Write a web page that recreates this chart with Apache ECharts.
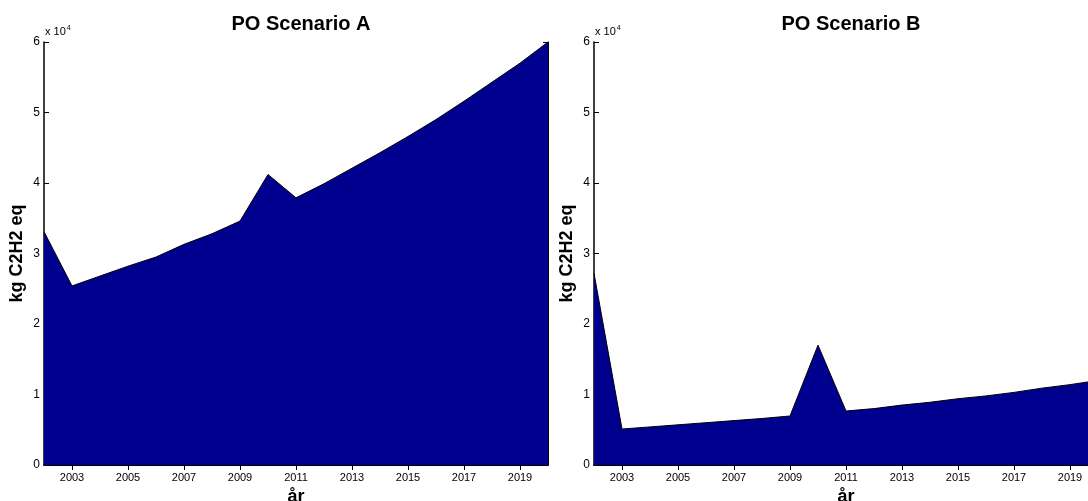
<!DOCTYPE html>
<html><head><meta charset="utf-8">
<script src="https://cdn.jsdelivr.net/npm/echarts@6/dist/echarts.min.js"></script>
<style>html,body{margin:0;padding:0;background:#fff}#c{width:1088px;height:501px}</style>
</head><body><div id="c"></div>
<script>
const years = ['2002','2003','2004','2005','2006','2007','2008','2009','2010','2011','2012','2013','2014','2015','2016','2017','2018','2019','2020'];
const scenarioA = [33100, 25400, 26800, 28200, 29500, 31300, 32800, 34600, 41200, 37900, 39900, 42100, 44300, 46600, 49000, 51600, 54300, 57000, 60000];
const scenarioB = [27200, 5100, 5400, 5700, 6000, 6300, 6600, 6950, 17000, 7660, 8000, 8500, 8900, 9400, 9800, 10300, 10900, 11400, 12000];
const yTicks = ['0','1','2','3','4','5','6'];
const titles = ['PO Scenario A', 'PO Scenario B'];
const yName = 'kg C2H2 eq';
const xName = 'år';
const scaleText = '{a|x 10}{b|4}';

const font = 'Liberation Sans, Arial, sans-serif';
const chart = echarts.init(document.getElementById('c'));
const oddIdx = (i) => i % 2 === 1;
const grids = [
  {left: 44, top: 42, width: 504, height: 423, outerBoundsMode: 'none', containLabel: false},
  {left: 594, top: 42, width: 504, height: 423, outerBoundsMode: 'none', containLabel: false}
];
const xAxes = [], yAxes = [], series = [], title = [], graphic = [];
grids.forEach((g, k) => {
  title.push({text: titles[k], left: g.left + g.width / 2, top: 9, textAlign: 'center',
    textStyle: {fontFamily: font, fontSize: 20, fontWeight: 'bold', color: '#000'}});
  graphic.push({type: 'text', left: g.left + 1, top: g.top - 17,
    style: {text: scaleText, rich: {a: {fontFamily: font, fontSize: 11, fill: '#000'},
      b: {fontFamily: font, fontSize: 7, fill: '#000', verticalAlign: 'top', padding: [0, 0, 7, 1]}}}});
  xAxes.push({type: 'category', gridIndex: k, data: years, boundaryGap: false,
    name: xName, nameLocation: 'middle', nameGap: 22,
    nameTextStyle: {fontFamily: font, fontSize: 18, fontWeight: 'bold', color: '#000'},
    axisLine: {lineStyle: {color: '#000', width: 1.5}},
    axisTick: {inside: true, length: 5, interval: oddIdx, lineStyle: {color: '#000'}},
    axisLabel: {interval: oddIdx, fontFamily: font, fontSize: 11, color: '#000', margin: 7},
    splitLine: {show: false}});
  xAxes.push({type: 'category', gridIndex: k, data: years, boundaryGap: false, position: 'top',
    axisLine: {lineStyle: {color: '#000', width: 1}},
    axisTick: {inside: true, length: 5, interval: oddIdx, lineStyle: {color: '#000'}},
    axisLabel: {show: false}, splitLine: {show: false}});
  yAxes.push({type: 'value', gridIndex: k, min: 0, max: 60000, interval: 10000,
    name: yName, nameLocation: 'middle', nameGap: 18,
    nameTextStyle: {fontFamily: font, fontSize: 18, fontWeight: 'bold', color: '#000'},
    axisLine: {show: true, lineStyle: {color: '#000', width: 1.5}},
    axisTick: {show: true, inside: true, length: 5, lineStyle: {color: '#000'}},
    axisLabel: {fontFamily: font, fontSize: 12, color: '#000', margin: 4,
      formatter: (v) => yTicks[Math.round(v / 10000)]},
    splitLine: {show: false}});
  yAxes.push({type: 'value', gridIndex: k, min: 0, max: 60000, interval: 10000, position: 'right',
    axisLine: {show: true, lineStyle: {color: '#000', width: 1}},
    axisTick: {show: true, inside: true, length: 5, lineStyle: {color: '#000'}},
    axisLabel: {show: false}, splitLine: {show: false}});
  series.push({type: 'line', xAxisIndex: 2 * k, yAxisIndex: 2 * k, data: k === 0 ? scenarioA : scenarioB,
    symbol: 'none', lineStyle: {color: '#000', width: 1}, areaStyle: {color: '#00008f', opacity: 1},
    z: 1, animation: false});
});
chart.setOption({animation: false, title, grid: grids, xAxis: xAxes, yAxis: yAxes, series, graphic});
</script></body></html>
